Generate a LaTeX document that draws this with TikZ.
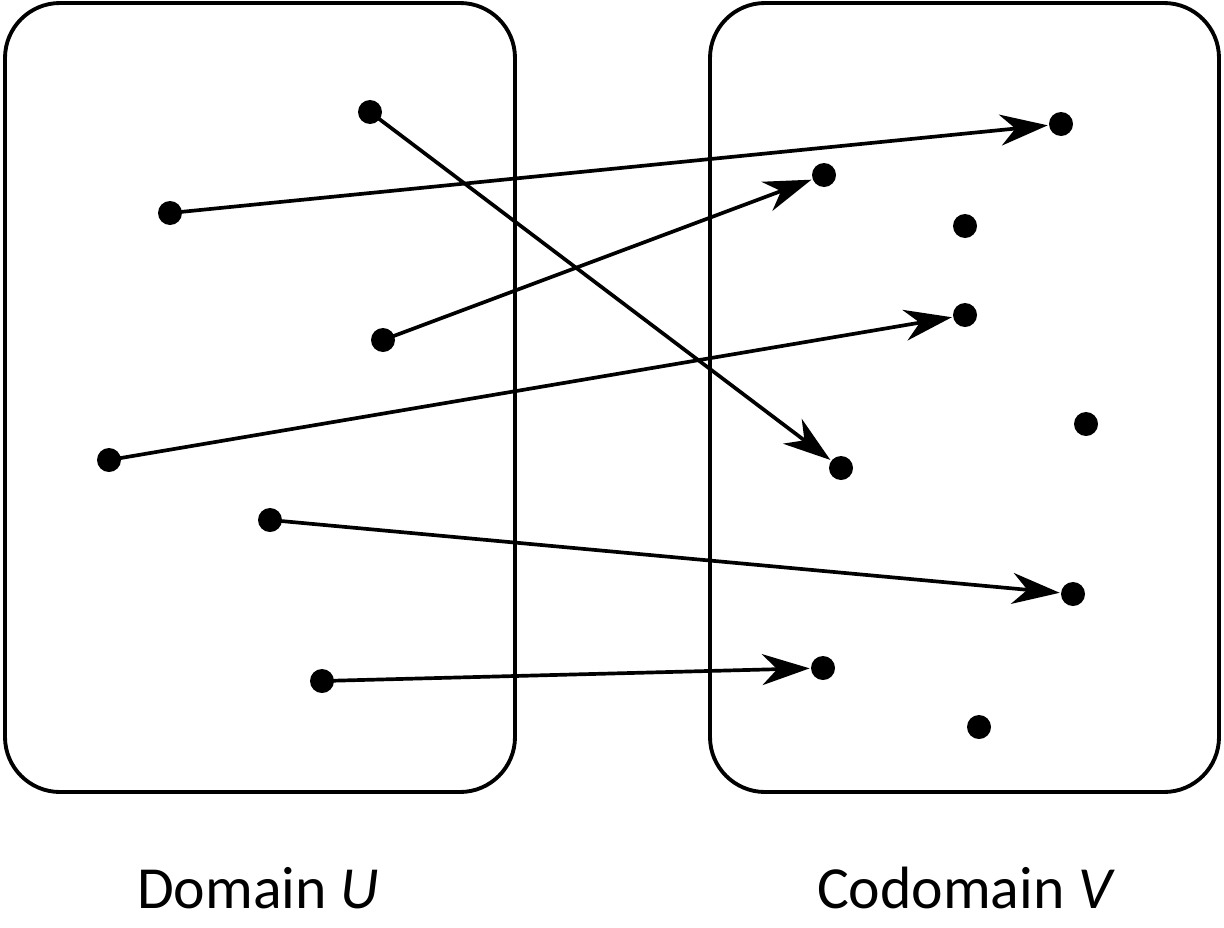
\documentclass[tikz,border=0pt]{standalone}
\usepackage{fontspec}
\setmainfont{Carlito}
\usetikzlibrary{arrows.meta}
\tikzset{
  setbox/.style={draw, line width=2.2pt, rounded corners=1.1cm},
  elem/.style={circle, fill=black, inner sep=0pt, minimum size=0.48cm},
  maps/.style={line width=2.1pt, -{Stealth[length=0.95cm, width=0.62cm, inset=0.3cm]}, shorten >=0.02cm},
  caption/.style={font=\fontsize{34}{40}\selectfont}
}
\begin{document}
\begin{tikzpicture}[x=0.02cm, y=-0.02cm]
\useasboundingbox (0,0) rectangle (1224,927);

% Sets
\draw[setbox] (5,3) rectangle (515,792);
\draw[setbox] (710,3) rectangle (1219,792);

% Domain elements
\node[elem] (u1) at (370,112) {};
\node[elem] (u2) at (170,213) {};
\node[elem] (u3) at (383,340) {};
\node[elem] (u4) at (109,460) {};
\node[elem] (u5) at (270,520) {};
\node[elem] (u6) at (322,681) {};

% Codomain elements
\node[elem] (v1) at (1061,124) {};
\node[elem] (v2) at (824,175) {};
\node[elem] (v3) at (965,226) {};
\node[elem] (v4) at (965,315) {};
\node[elem] (v5) at (1086,424) {};
\node[elem] (v6) at (841,468) {};
\node[elem] (v7) at (1073,594) {};
\node[elem] (v8) at (823,668) {};
\node[elem] (v9) at (979,727) {};

% Mappings
\draw[maps] (u1.center) -- (v6);
\draw[maps] (u2.center) -- (v1);
\draw[maps] (u3.center) -- (v2);
\draw[maps] (u4.center) -- (v4);
\draw[maps] (u5.center) -- (v7);
\draw[maps] (u6.center) -- (v8);

% Labels
\node[caption] (dom) at (258,888) {Domain \textit{U}};
\node[caption] (cod) at (966,888) {Codomain \textit{V}};
\end{tikzpicture}
\end{document}
